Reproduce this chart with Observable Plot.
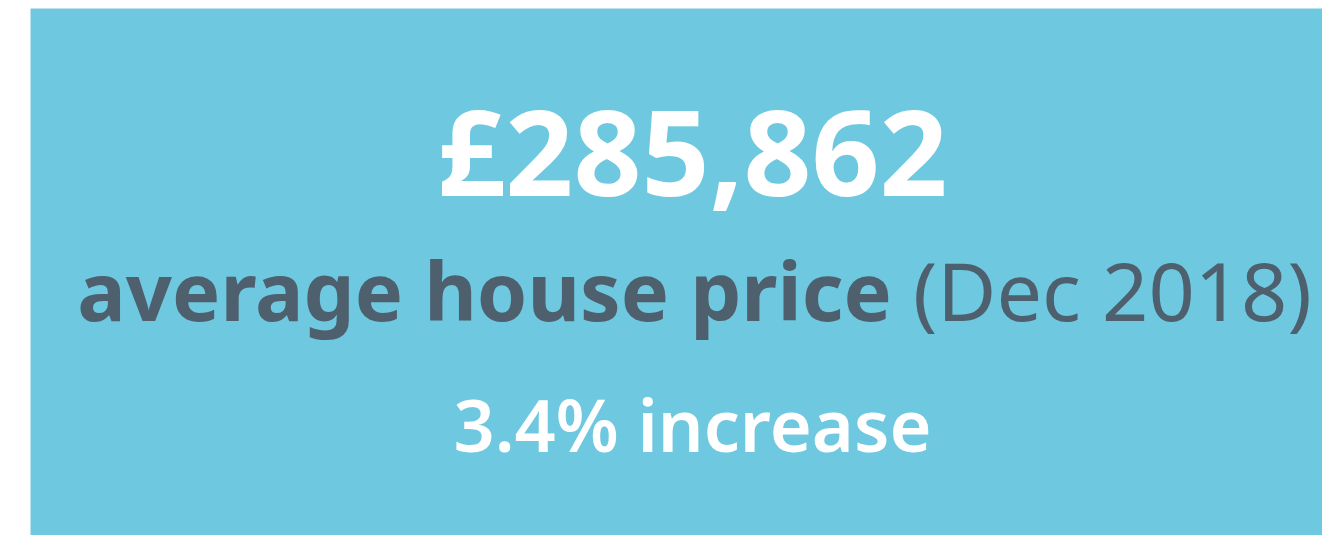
<!DOCTYPE html>
<html>
<head>
<meta charset="utf-8">
<script src="https://cdn.jsdelivr.net/npm/d3@7"></script>
<script src="https://cdn.jsdelivr.net/npm/@observablehq/plot@0.6"></script>
<style>
  html, body { margin: 0; padding: 0; background: #ffffff; }
  #chart svg { display: block; }
</style>
</head>
<body>
<div id="chart"></div>
<script>
// Data
const rows = ["value", "label", "change"];
const priceValue = "£285,862";
const labelMain = "average house price";
const labelNote = "(Dec 2018)";
const changeText = "3.4% increase";

const BG = "#6ec8df";
const DARK = "#4e5f6d";
const FONT = "'Noto Sans', 'Open Sans', sans-serif";

const data = [
  {row: "value", text: priceValue, size: 119, weight: "bold", color: "#ffffff", dx: 16, dy: 0},
  {row: "label", text: labelMain + " " + labelNote, size: 81, weight: "bold", color: DARK, dx: 18, dy: -3},
  {row: "change", text: changeText, size: 72, weight: "600", color: "#ffffff", dx: 16, dy: 0}
];

const plot = Plot.plot({
  width: 1322,
  height: 535,
  marginLeft: 30,
  marginTop: 8,
  marginRight: 0,
  marginBottom: 0,
  style: {background: "transparent", fontFamily: FONT, overflow: "visible"},
  y: {type: "point", domain: rows, range: [195, 451], padding: 0, axis: null},
  marks: [
    Plot.frame({fill: BG, stroke: null}),
    ...data.map(d => Plot.text([d], {
      y: "row",
      text: "text",
      frameAnchor: "middle",
      textAnchor: "middle",
      lineAnchor: "bottom",
      dx: d.dx,
      dy: d.dy,
      fontSize: d.size,
      fontWeight: d.weight,
      fill: d.color,
      fontFamily: FONT
    }))
  ]
});

// Mixed weight on the label line
d3.select(plot).selectAll("text").each(function() {
  if (this.textContent === labelMain + " " + labelNote) {
    const t = d3.select(this);
    t.text(null);
    t.append("tspan").attr("font-weight", "bold").text(labelMain + " ");
    t.append("tspan").attr("font-weight", "normal").text(labelNote);
  }
});

document.getElementById("chart").appendChild(plot);
</script>
</body>
</html>
